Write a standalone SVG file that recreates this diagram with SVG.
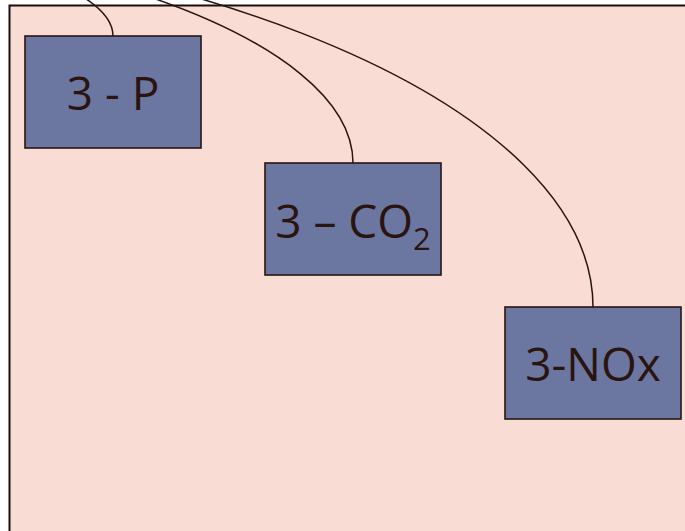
<svg xmlns="http://www.w3.org/2000/svg" width="685" height="531" viewBox="0 0 685 531">
  <style>
    .panel { fill: #f9ddd5; stroke: #1a0f0c; stroke-width: 2; }
    .box { fill: #6b77a0; stroke: #2a1410; stroke-width: 1.6; }
    .label { font-family: "Open Sans", "Liberation Sans", sans-serif; font-size: 46px; fill: #2a1410; text-anchor: middle; }
    .link { fill: none; stroke: #2a1410; stroke-width: 1.5; }
  </style>
  <rect width="685" height="531" fill="#ffffff"/>
  <rect class="panel" x="9.5" y="5.5" width="700" height="560"/>

  <g id="connectors">
    <path class="link" d="M -400,-80 A 513 116 0 0 1 113,36"/>
    <path class="link" d="M -400,-80 A 753 243 0 0 1 353,163"/>
    <path class="link" d="M -400,-80 A 993 387 0 0 1 593,307"/>
  </g>

  <g id="node-p">
    <rect class="box" x="25" y="36" width="176" height="112"/>
    <text class="label" x="113" y="110">3 - P</text>
  </g>

  <g id="node-co2">
    <rect class="box" x="265" y="163" width="176" height="112"/>
    <text class="label" x="353" y="238">3 – CO<tspan font-size="31" dy="12">2</tspan></text>
  </g>

  <g id="node-nox">
    <rect class="box" x="505" y="307" width="176" height="112"/>
    <text class="label" x="593" y="381">3-NOx</text>
  </g>
</svg>
